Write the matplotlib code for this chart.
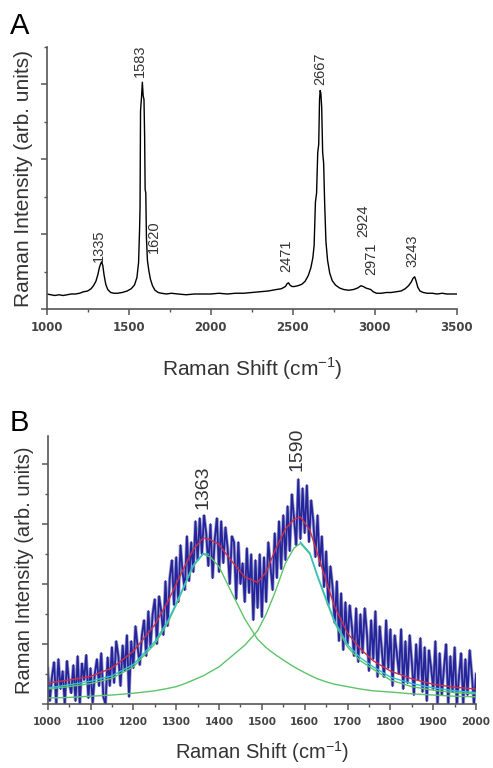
import matplotlib.pyplot as plt
from matplotlib.ticker import MultipleLocator

plt.rcParams['font.family'] = ['Liberation Sans', 'DejaVu Sans']

# ---- panel A: full Raman spectrum ----
shift_a = [1000, 1025, 1050, 1075, 1100, 1125, 1150, 1175, 1200, 1225, 1250, 1270, 1285, 1300,
           1312, 1322, 1330, 1335, 1342, 1350, 1360, 1372, 1390, 1410, 1430, 1460, 1490, 1515,
           1535, 1550, 1560, 1566, 1569, 1572, 1578, 1583, 1588, 1593, 1597, 1600, 1604, 1608,
           1614, 1622, 1632, 1645, 1660, 1680, 1700, 1730, 1760, 1800, 1850, 1900, 1950, 2000,
           2050, 2100, 2150, 2200, 2250, 2300, 2350, 2400, 2430, 2455, 2466, 2474, 2482, 2495,
           2510, 2530, 2555, 2575, 2595, 2610, 2622, 2630, 2638, 2645, 2652, 2658, 2663, 2667,
           2671, 2676, 2682, 2688, 2694, 2702, 2712, 2725, 2740, 2760, 2785, 2810, 2840, 2870,
           2895, 2915, 2930, 2945, 2960, 2975, 2990, 3010, 3040, 3070, 3100, 3130, 3160, 3185,
           3205, 3222, 3233, 3243, 3252, 3262, 3275, 3295, 3320, 3350, 3380, 3410, 3440, 3470, 3500]
inten_a = [0.20, 0.19, 0.18, 0.19, 0.18, 0.19, 0.20, 0.20, 0.21, 0.23, 0.24, 0.27, 0.31, 0.37,
           0.46, 0.56, 0.61, 0.63, 0.58, 0.45, 0.33, 0.26, 0.22, 0.21, 0.21, 0.22, 0.24, 0.27,
           0.32, 0.42, 0.62, 1.05, 1.36, 2.65, 2.83, 3.03, 2.85, 2.80, 2.30, 1.60, 1.55, 0.95,
           0.65, 0.52, 0.40, 0.31, 0.25, 0.22, 0.21, 0.20, 0.21, 0.20, 0.19, 0.20, 0.20, 0.20,
           0.21, 0.20, 0.21, 0.21, 0.22, 0.23, 0.24, 0.26, 0.27, 0.30, 0.34, 0.35, 0.32, 0.30,
           0.30, 0.31, 0.33, 0.37, 0.45, 0.55, 0.68, 0.85, 1.43, 1.55, 2.09, 2.20, 2.80, 2.92,
           2.88, 2.70, 2.09, 1.95, 1.43, 0.90, 0.65, 0.48, 0.38, 0.32, 0.28, 0.26, 0.25, 0.26,
           0.28, 0.31, 0.30, 0.28, 0.27, 0.26, 0.23, 0.21, 0.21, 0.22, 0.22, 0.23, 0.24, 0.27,
           0.31, 0.36, 0.41, 0.43, 0.37, 0.29, 0.24, 0.22, 0.21, 0.21, 0.20, 0.21, 0.20, 0.20, 0.20]
peaks_a = [1335, 1583, 1620, 2471, 2667, 2924, 2971, 3243]
label_x_a = [1319, 1568, 1654, 2463, 2665, 2930, 2981, 3232]
label_y_a = [0.63, 3.10, 0.75, 0.50, 2.99, 0.96, 0.45, 0.56]

# ---- panel B: D/G region with Lorentzian fit ----
shift_b = list(range(1000, 2001, 5))
inten_b = [0.60, 0.05, 0.45, 0.70, 0.00, 0.75, 0.25, 0.55, 0.00, 0.72,
           0.35, 0.18, 0.65, 0.05, 0.80, 0.00, 0.68, 0.40, 0.82, 0.10,
           0.60, 0.02, 0.50, 0.75, 0.30, 0.85, 0.12, 0.00, 0.78, 0.30,
           0.95, 0.35, 1.05, 0.80, 0.30, 0.98, 0.55, 1.15, 0.12, 1.05,
           0.60, 1.30, 0.95, 0.65, 1.15, 1.40, 0.80, 1.55, 0.95, 1.50,
           1.75, 1.00, 1.80, 1.55, 1.15, 2.05, 1.30, 2.10, 2.40, 1.65,
           2.45, 1.70, 2.65, 2.20, 1.90, 2.80, 2.05, 2.70, 2.20, 3.05,
           2.40, 3.10, 2.50, 3.15, 2.85, 2.30, 3.00, 2.10, 2.75, 3.10,
           2.20, 3.05, 2.35, 2.95, 2.60, 2.00, 2.80, 2.70, 1.75, 2.70,
           2.00, 2.35, 1.70, 2.60, 1.85, 2.50, 1.40, 2.40, 1.60, 2.50,
           1.45, 2.45, 1.70, 2.70, 2.30, 1.90, 2.85, 2.10, 3.05, 2.25,
           3.15, 2.40, 3.30, 2.55, 3.50, 3.10, 2.65, 3.75, 2.75, 3.60,
           2.85, 3.65, 2.70, 3.40, 3.05, 2.45, 3.15, 2.30, 2.80, 1.95,
           2.55, 1.65, 2.30, 1.95, 1.35, 2.05, 1.05, 1.85, 0.90, 1.70,
           1.00, 1.65, 1.30, 0.80, 1.60, 0.70, 1.50, 0.85, 1.60, 1.20,
           0.55, 1.40, 0.75, 1.55, 0.45, 1.30, 0.90, 0.45, 1.40, 0.60,
           1.25, 0.30, 1.15, 0.85, 0.50, 1.25, 0.25, 1.05, 0.35, 1.15,
           0.70, 0.15, 1.00, 0.40, 1.10, 0.20, 0.95, 0.05, 0.90, 0.60,
           0.25, 1.05, 0.00, 0.85, 0.15, 0.60, 1.00, 0.00, 0.80, 0.20,
           0.95, 0.00, 0.45, 0.85, 0.00, 0.75, 0.15, 0.90, 0.50, 0.00,
           0.50]

fit_x = [1000, 1050, 1100, 1150, 1200, 1250, 1280, 1300, 1320, 1340, 1363, 1380, 1400, 1430,
         1460, 1490, 1510, 1530, 1555, 1575, 1590, 1612, 1630, 1650, 1670, 1700, 1730, 1760,
         1800, 1850, 1900, 1950, 2000]
fit_total = [0.35, 0.40, 0.46, 0.60, 0.88, 1.32, 1.70, 2.00, 2.30, 2.58, 2.77, 2.74, 2.66, 2.38,
             2.12, 2.03, 2.20, 2.55, 2.92, 3.08, 3.12, 2.90, 2.50, 2.05, 1.62, 1.18, 0.92, 0.72,
             0.55, 0.42, 0.33, 0.28, 0.25]
fit_d = [0.25, 0.29, 0.34, 0.43, 0.62, 1.00, 1.35, 1.65, 1.98, 2.30, 2.50, 2.45, 2.29, 1.85,
         1.42, 1.08, 0.94, 0.83, 0.71, 0.62, 0.56, 0.48, 0.42, 0.37, 0.33, 0.29, 0.25, 0.22,
         0.20, 0.17, 0.15, 0.13, 0.12]
fit_g = [0.10, 0.11, 0.13, 0.15, 0.18, 0.22, 0.26, 0.29, 0.34, 0.40, 0.47, 0.54, 0.62, 0.80,
         0.98, 1.22, 1.50, 1.85, 2.35, 2.60, 2.68, 2.50, 2.12, 1.73, 1.35, 0.95, 0.72, 0.58,
         0.40, 0.29, 0.23, 0.19, 0.17]
cyan_x = [1000, 1050, 1100, 1150, 1200, 1250, 1280, 1300, 1320, 1340, 1363, 1375,
          1590, 1612, 1630, 1650, 1670, 1700, 1730, 1760, 1800, 1850, 1900, 1950, 2000]
cyan_y = [0.27, 0.32, 0.38, 0.47, 0.66, 1.04, 1.38, 1.68, 2.00, 2.32, 2.51, 2.50,
          2.70, 2.52, 2.14, 1.76, 1.38, 0.99, 0.77, 0.62, 0.45, 0.34, 0.27, 0.22, 0.19]
cyan_break = 12
peaks_b = [1363, 1590]
label_x_b = [1363, 1582]
label_y_b = [3.25, 3.88]

fig = plt.figure(figsize=(4.93, 7.68), dpi=100)
axA = fig.add_axes([0.0947, 0.5977, 0.832, 0.341])
axB = fig.add_axes([0.0967, 0.0833, 0.869, 0.349])

axA.plot(shift_a, inten_a, color='black', lw=1.0)
for p, lx, ly in zip(peaks_a, label_x_a, label_y_a):
    axA.text(lx, ly, str(p), rotation=90, ha='center', va='bottom', fontsize=10.5, color='#333333')
axA.set_xlim(1000, 3500)
axA.set_ylim(0, 3.5)
axA.xaxis.set_major_locator(MultipleLocator(500))
axA.xaxis.set_minor_locator(MultipleLocator(250))

axB.plot(shift_b, inten_b, color='#a4a2cc', lw=2.4, solid_joinstyle='miter')
axB.plot(shift_b, inten_b, color='#24249c', lw=1.3)
axB.plot(fit_x, fit_d, color='#5cc46a', lw=1.0)
axB.plot(fit_x, fit_g, color='#5cc46a', lw=1.0)
axB.plot(cyan_x[:cyan_break], cyan_y[:cyan_break], color='#30c0d0', lw=1.0)
axB.plot(cyan_x[cyan_break:], cyan_y[cyan_break:], color='#30c0d0', lw=1.0)
axB.plot(fit_x, fit_total, color='#d03048', lw=1.0)
for p, lx, ly in zip(peaks_b, label_x_b, label_y_b):
    axB.text(lx, ly, str(p), rotation=90, ha='center', va='bottom', fontsize=14, color='#333333')
axB.set_xlim(1000, 2000)
axB.set_ylim(0, 4.47)
axB.xaxis.set_major_locator(MultipleLocator(100))
axB.xaxis.set_minor_locator(MultipleLocator(50))

for ax, tfs, lfs, pad in [(axA, 8.5, 15, 15), (axB, 7.5, 14.5, 9)]:
    ax.spines['top'].set_visible(False)
    ax.spines['right'].set_visible(False)
    for s in ['left', 'bottom']:
        ax.spines[s].set_color('#555555')
        ax.spines[s].set_linewidth(1.2)
    ax.yaxis.set_major_locator(MultipleLocator(1))
    ax.yaxis.set_minor_locator(MultipleLocator(0.5))
    ax.tick_params(which='major', direction='out', length=4, width=1.1, color='#555555')
    ax.tick_params(which='minor', direction='out', length=2.5, width=1.0, color='#555555')
    ax.tick_params(axis='y', labelleft=False)
    ax.tick_params(axis='x', pad=5)
    for t in ax.get_xticklabels():
        t.set_fontfamily('DejaVu Sans')
        t.set_fontweight('bold')
        t.set_fontsize(tfs)
        t.set_color('#444444')
    ax.set_xlabel(r'Raman Shift (cm$^{\mathregular{-1}}$)', fontsize=lfs, color='#333333', labelpad=pad)
    ax.set_ylabel('Raman Intensity (arb. units)', fontsize=lfs, color='#333333', labelpad=4)

fig.text(0.02, 0.985, 'A', fontsize=21, ha='left', va='top', color='black')
fig.text(0.02, 0.468, 'B', fontsize=21, ha='left', va='top', color='black')

fig.savefig('out.png', dpi=100)
